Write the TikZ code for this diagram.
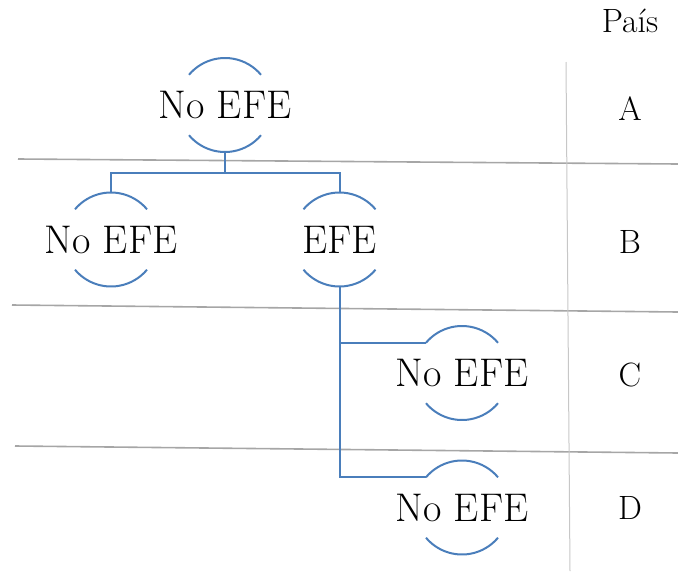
\documentclass[tikz,border=0pt]{standalone}
\begin{document}
\begin{tikzpicture}[x=1pt,y=-1pt,
  efe/.style={circle,draw=none,minimum size=94pt,inner sep=0pt,outer sep=0pt,
    label={[inner sep=0pt,font=\fontsize{40}{40}\selectfont]center:#1}},
  arcline/.style={draw=efeblue,line width=2pt},
  conn/.style={draw=efeblue,line width=2pt},
  sep/.style={draw=sepgray,line width=1.6pt},
  vsep/.style={draw=black!22,line width=1pt},
  lbl/.style={anchor=base,inner sep=0pt,font=\fontsize{33.7}{34}\selectfont}]
\definecolor{efeblue}{HTML}{4A7EBB}
\definecolor{sepgray}{HTML}{A6A6A6}
\useasboundingbox (0,0) rectangle (678,571);

% separators
\draw[sep] (18,159) -- (678,164);
\draw[sep] (12,305) -- (678,312);
\draw[sep] (15,446) -- (678,453);
\draw[vsep] (566,62) -- (570,571);

% nodes
\node[efe={No EFE}] (a) at (225,105) {};
\node[efe={No EFE}] (b1) at (111,239.5) {};
\node[efe={EFE}] (b2) at (339.5,239.5) {};
\node[efe={No EFE}] (c) at (462,373) {};
\node[efe={No EFE}] (d) at (462,507.5) {};

\foreach \n in {a,b1,b2,c,d}{
  \draw[arcline] (\n.140) arc[start angle=140,end angle=40,radius=47pt];
  \draw[arcline] (\n.220) arc[start angle=220,end angle=320,radius=47pt];
}

% connectors
\coordinate (j1) at (225,173);
\draw[conn] (a.south) -- (j1) -| (b1.north);
\draw[conn] (j1) -| (b2.north);
\draw[conn] (b2.south) |- (c.140);
\draw[conn] (b2.south) |- (d.140);

% country labels
\node[lbl] (pais) at (630,32) {País};
\node[lbl] (la) at (630,120) {A};
\node[lbl] (lb) at (630,253) {B};
\node[lbl] (lc) at (630,386) {C};
\node[lbl] (ld) at (630,519) {D};
\end{tikzpicture}
\end{document}
